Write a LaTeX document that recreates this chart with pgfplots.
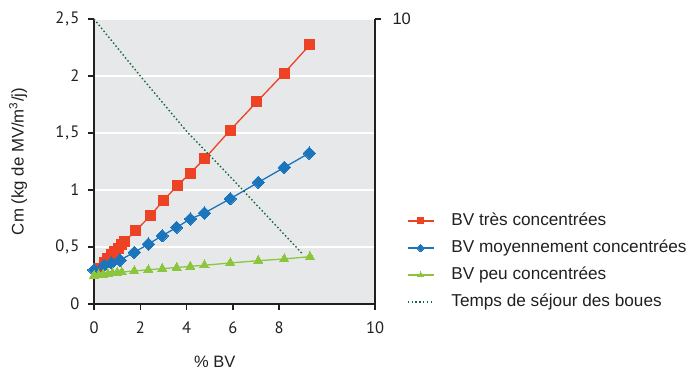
\documentclass[border=0pt]{standalone}
\usepackage{pgfplots}
\pgfplotsset{compat=1.18}
\usepackage{fontspec}
\setmainfont{Liberation Sans}
\newfontfamily\tickfont{PT Sans}
\definecolor{cred}{RGB}{238,66,36}
\definecolor{cblue}{RGB}{27,117,188}
\definecolor{cgreen}{RGB}{140,198,63}
\definecolor{cdot}{RGB}{20,105,60}
\definecolor{bggray}{RGB}{231,232,234}
\definecolor{axblack}{RGB}{35,31,32}
\definecolor{txt}{RGB}{35,31,32}
\newcommand{\cm}{\kern1pt,\kern1.3pt}
\begin{document}
\begin{tikzpicture}[x=1pt,y=1pt]
\path[use as bounding box] (0,0) rectangle (690,371);
\begin{axis}[
  at={(94pt,67pt)}, anchor=south west,
  scale only axis, width=281pt, height=285pt,
  xmin=0, xmax=12.14, ymin=0, ymax=2.5,
  axis x line*=bottom, axis y line*=left,
  axis line style={-, line width=1.8pt, color=axblack},
  axis background/.style={fill=bggray},
  xtick={0,2,4,6,8,12.14}, xticklabels={0,2,4,6,8,10},
  ytick={0,0.5,1,1.5,2,2.5}, yticklabels={0,{0\cm5},1,{1\cm5},2,{2\cm5}},
  tick align=outside, major tick length=6pt,
  tick style={line width=1.5pt, color=axblack},
  ymajorgrids, major grid style={white, line width=2pt},
  ticklabel style={font=\tickfont\fontsize{16.5}{16.5}\selectfont, text=txt},
  xticklabel style={anchor=center, yshift=-18pt},
  yticklabel style={anchor=east, xshift=-5pt},
  ylabel={Cm (kg de MV/m\textsuperscript{3}/j)},
  ylabel style={at={(axis description cs:-0.27,0.5)}, anchor=center, font=\fontsize{16.8}{16.8}\selectfont, text=txt},
  xlabel={\% BV},
  xlabel style={at={(axis description cs:0.43,-0.2035)}, anchor=center, font=\fontsize{16.5}{16.5}\selectfont, text=txt},
  clip=false,
  legend image code/.code={\draw[mark repeat=2,mark phase=2,/tikz/every mark/.append style={scale=0.6}] plot coordinates {(0pt,0pt)(13pt,0pt)(26pt,0pt)};},
  legend cell align=left,
  legend style={at={(axis description cs:1.1139,0.3193)}, anchor=north west, draw=none, fill=none,
    inner sep=0pt, outer sep=0pt, row sep=11pt,
    font=\fontsize{17.2}{17.2}\selectfont, text=txt,
    nodes={inner sep=0pt, text height=13pt, text depth=3pt},
    /tikz/every odd column/.append style={column sep=17pt}},
]
\addplot[color=cred, line width=1.3pt, mark=square*, mark size=5pt, mark options={draw=cred, fill=cred, line width=0pt}] coordinates {
(0.2,0.31) (0.45,0.36) (0.6,0.40) (0.75,0.43) (0.9,0.46) (1.05,0.49) (1.2,0.52) (1.3,0.545) (1.81,0.643) (2.42,0.772) (2.99,0.906) (3.60,1.038) (4.16,1.149) (4.77,1.272) (5.89,1.526) (7.03,1.772) (8.22,2.026) (9.33,2.275)};
\addlegendentry{BV très concentrées}
\addplot[color=cblue, line width=1.3pt, mark=square*, mark size=4.4pt, mark options={rotate=45, draw=cblue, fill=cblue, line width=0pt}] coordinates {
(0,0.30) (0.45,0.34) (0.75,0.36) (1.12,0.385) (1.74,0.453) (2.35,0.526) (2.95,0.599) (3.57,0.672) (4.16,0.746) (4.77,0.798) (5.89,0.924) (7.10,1.067) (8.22,1.198) (9.30,1.324)};
\addlegendentry{BV moyennement concentrées}
\addplot[color=cgreen, line width=1.3pt, mark=triangle*, mark size=5.3pt, mark options={draw=cgreen, fill=cgreen, line width=0pt}] coordinates {
(0,0.25) (0.2,0.255) (0.4,0.26) (0.6,0.265) (0.8,0.27) (1.0,0.275) (1.2,0.28) (1.74,0.29) (2.35,0.30) (2.95,0.31) (3.57,0.32) (4.16,0.33) (4.77,0.34) (5.89,0.36) (7.10,0.38) (8.22,0.395) (9.33,0.415)};
\addlegendentry{BV peu concentrées}
\addlegendimage{color=cdot, line width=1.4pt, dash pattern=on 1.5pt off 2.3pt}
\addlegendentry{Temps de séjour des boues}
\end{axis}
\begin{axis}[
  at={(94pt,67pt)}, anchor=south west,
  scale only axis, width=281pt, height=285pt,
  xmin=0, xmax=12.14, ymin=0, ymax=10,
  axis x line=none, axis y line*=right,
  axis line style={-, line width=1.8pt, color=axblack},
  ytick={10}, yticklabels={10},
  tick align=outside, major tick length=6pt,
  tick style={line width=1.5pt, color=axblack},
  ticklabel style={font=\fontsize{16.5}{16.5}\selectfont, text=txt},
  yticklabel style={anchor=west, xshift=8pt},
  clip=false,
]
\addplot[color=cdot, line width=1.4pt, dash pattern=on 1.5pt off 2.3pt] coordinates {
(0,10) (2,8.0) (4,6.06) (5.87,4.48) (9.04,1.73)};
\end{axis}
\end{tikzpicture}
\end{document}
